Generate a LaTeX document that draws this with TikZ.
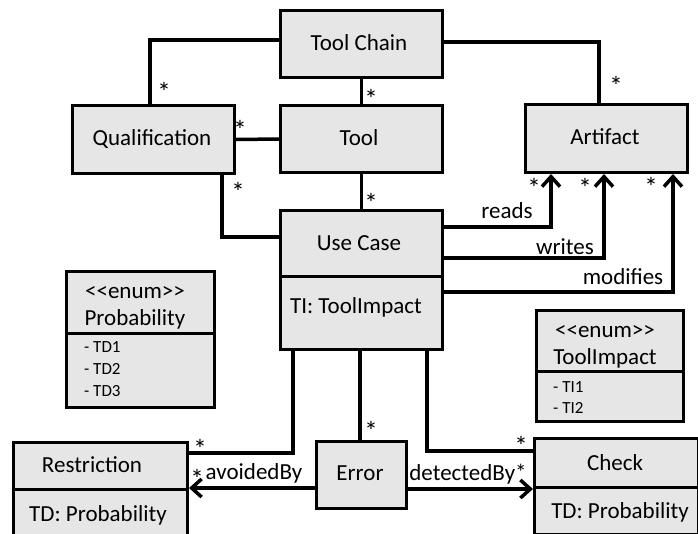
\documentclass[tikz,border=0pt]{standalone}
\usepackage{fontspec}
\setmainfont{Carlito}
\usetikzlibrary{calc,arrows.meta}
\definecolor{boxfill}{HTML}{E6E6E6}
\tikzset{
  box/.style={draw=black, line width=3pt, fill=boxfill, rectangle, anchor=north west, inner sep=0pt},
  conn/.style={line width=3.5pt, line join=miter},
  arr/.style={conn, -{Straight Barb[length=10pt,width=18pt]}},
  lbl/.style={font=\fontsize{23}{27}\selectfont, inner sep=0pt, text height=16pt, text depth=1pt},
  small/.style={font=\fontsize{17}{20}\selectfont, inner sep=0pt, anchor=west},
  star/.style={font=\fontsize{27}{30}\selectfont, inner sep=0pt, yshift=-5pt},
  divider/.style={line width=3pt}
}
\newcommand{\enumtag}{<\kern0pt<enum>\kern0pt>}
\begin{document}
\begin{tikzpicture}[x=1pt,y=-1pt]
\useasboundingbox (0,0) rectangle (698,533);
\clip (0,0) rectangle (698,533);
% boxes
\node[box, minimum width=162, minimum height=67] (tc) at (279,9) {};
\node[lbl] (tct) at (359,43) {Tool Chain};
\node[box, minimum width=162, minimum height=67] (tool) at (279,104) {};
\node[lbl] (toolt) at (359,138) {Tool};
\node[box, minimum width=162, minimum height=68] (qual) at (71,104) {};
\node[lbl] (qualt) at (152,138) {Qualification};
\node[box, minimum width=162, minimum height=68] (art) at (524,103) {};
\node[lbl] (artt) at (605,137) {Artifact};
\node[box, minimum width=162, minimum height=139] (uc) at (279,209) {};
\draw[divider] (279,276) -- (441,276);
\node[lbl] (uct) at (359,243) {Use Case};
\node[lbl] (uca) at (356,306) {TI: ToolImpact};
\node[box, minimum width=148, minimum height=136] (prob) at (65,270) {};
\draw[divider] (65,333) -- (213,333);
\node[lbl] (probs) at (135,291) {\enumtag};
\node[lbl] (probn) at (135,318) {Probability};
\node[small] (td1) at (84,347) {- TD1};
\node[small] (td2) at (84,369) {- TD2};
\node[small] (td3) at (84,391) {- TD3};
\node[box, minimum width=174, minimum height=100] (restr) at (12,441) {};
\draw[divider] (12,489) -- (186,489);
\node[lbl] (restrt) at (92,465) {Restriction};
\node[lbl] (restra) at (98,514) {TD: Probability};
\node[box, minimum width=90, minimum height=67] (err) at (315,440) {};
\node[lbl] (errt) at (360,473) {Error};
\node[box, minimum width=147, minimum height=111] (ti) at (535,309) {};
\draw[divider] (535,371) -- (682,371);
\node[lbl] (tis) at (605,330) {\enumtag};
\node[lbl] (tin) at (605,357) {ToolImpact};
\node[small] (ti1) at (553,387) {- TI1};
\node[small] (ti2) at (553,408) {- TI2};
\node[box, minimum width=164, minimum height=96] (chk) at (533,437) {};
\draw[divider] (533,487) -- (697,487);
\node[lbl] (chkt) at (615,463) {Check};
\node[lbl] (chka) at (620,511) {TD: Probability};
% connectors
\draw[conn] ($(tc.north west)+(0,31)$) -| ($(qual.north west)+(79,0)$);
\node[star] (s1) at (164,87) {*};
\draw[conn] (tc.south) -- (tool.north);
\node[star] (s2) at (371,94) {*};
\draw[conn] ($(tc.north east)+(0,33)$) -| ($(art.north west)+(75,0)$);
\node[star] (s3) at (616,81) {*};
\draw[conn] (qual.east) -- (tool.west);
\node[star] (s4) at (240,125) {*};
\draw[conn] ($(qual.south west)+(151,0)$) |- ($(uc.north west)+(0,28)$);
\node[star] (s5) at (238,187) {*};
\draw[conn] (tool.south) -- (uc.north);
\node[star] (s6) at (371,198) {*};
\draw[arr] ($(uc.north east)+(0,18)$) -| ($(art.south west)+(27,0)$);
\node[star] (s7) at (534,183) {*};
\node[lbl] (lr) at (507,211) {reads};
\draw[arr] ($(uc.north east)+(0,49)$) -| ($(art.south west)+(80,0)$);
\node[star] (s8) at (585,183) {*};
\node[lbl] (lw) at (565,247) {writes};
\draw[arr] ($(uc.north east)+(0,83)$) -| ($(art.south west)+(149,0)$);
\node[star] (s9) at (651,182) {*};
\node[lbl] (lm) at (623,277) {modifies};
\draw[conn] ($(uc.south west)+(14,0)$) |- ($(restr.north east)+(0,12)$);
\node[star] (s10) at (200,444) {*};
\draw[conn] ($(uc.south west)+(81,0)$) -- ($(err.north west)+(45,0)$);
\node[star] (s11) at (371,426) {*};
\draw[conn] ($(uc.south west)+(148,0)$) |- ($(chk.north west)+(0,14)$);
\node[star] (s12) at (521,441) {*};
\draw[arr] ($(err.north west)+(0,48)$) -- ($(restr.north east)+(0,47)$);
\node[star] (s13) at (197,474) {*};
\node[lbl] (la) at (254,472) {avoidedBy};
\draw[arr] ($(err.north east)+(0,49)$) -- ($(chk.north west)+(0,52)$);
\node[lbl] (ld) at (468,473) {detectedBy*};
\end{tikzpicture}
\end{document}
